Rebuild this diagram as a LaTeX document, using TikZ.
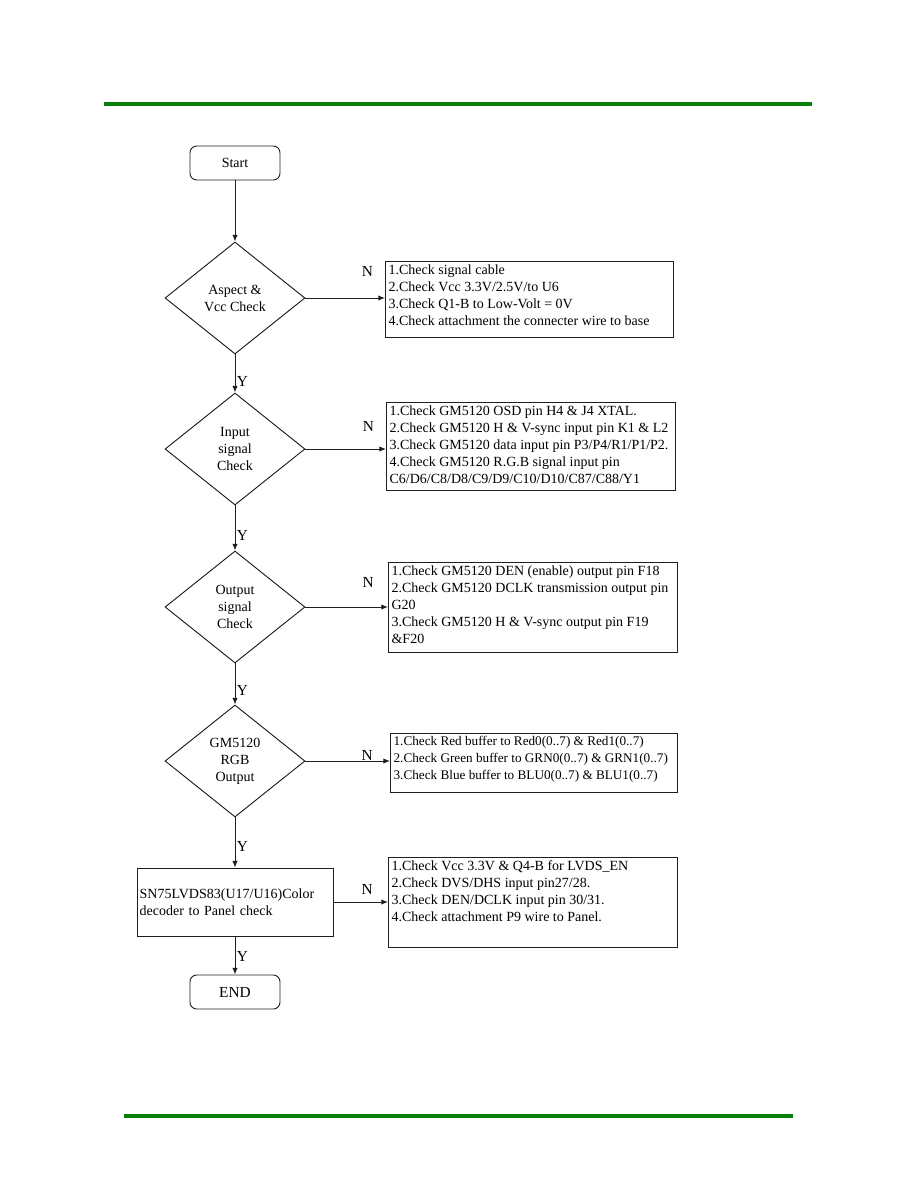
\documentclass[tikz,border=0pt]{standalone}
\usepackage{fontspec}
\setmainfont{Liberation Serif}
\usetikzlibrary{positioning,arrows.meta,shapes.geometric}
\definecolor{uRule}{HTML}{0A800A}
\definecolor{uInk}{HTML}{1E1E1E}
\tikzset{
  base/.style={draw=uInk, line width=0.7pt, inner sep=2pt,
               font=\fontsize{10.5}{12.75}\selectfont},
  term/.style={base, rounded corners=5pt, minimum width=67.5pt,
               minimum height=25.5pt},
  test/.style={base, diamond, aspect=1.25, align=center, inner sep=0pt,
               minimum width=105pt, minimum height=84pt},
  proc/.style={base, minimum width=147pt, minimum height=51pt,
               text width=143pt, align=left},
  chk/.style={base, anchor=north west},
  % the list sits in the top left corner of its frame
  chktext/.style={anchor=north west, align=left, inner sep=2.5pt,
                  font=\fontsize{10.5}{12.75}\selectfont},
  flow/.style={-{Latex[length=5pt, width=4pt]}, draw=uInk, line width=0.7pt},
  lbl/.style={font=\fontsize{11.5}{12}\selectfont, inner sep=1pt},
  greenrule/.style={draw=uRule, line width=3.5pt},
}

\begin{document}
\begin{tikzpicture}[x=0.75pt, y=-0.75pt]
\useasboundingbox (0,0) rectangle (918,1188);

%% ── page rules ───────────────────────────────────────────────────────────
\draw[greenrule] (104,104) -- (812,104);
\draw[greenrule] (124,1116) -- (793,1116);

%% ── main column ──────────────────────────────────────────────────────────
\node[term] (start) at (235,163) {Start};
\node[test] (asp) at (235,298) {Aspect \&\\Vcc Check};
\node[test] (inp) at (235,449) {Input\\signal\\Check};
\node[test] (outp) at (235,607) {Output\\signal\\Check};
\node[test] (rgb) at (235,761) {GM5120\\RGB\\Output};
\node[proc] (lvds) at (235,902)
  {SN75LVDS83(U17/U16)Color\\decoder to Panel check};
\node[term, font=\fontsize{11.5}{13}\selectfont] (fin) at (235,992) {END};

%% ── what to check when the answer is no ──────────────────────────────────
\node[chk, minimum width=216pt, minimum height=57pt,
  label={[chktext]north west:{1.Check signal cable\\
    2.Check Vcc 3.3V/2.5V/to U6\\
    3.Check Q1-B to Low-Volt = 0V\\
    4.Check attachment the connecter wire to base}}] (c1) at (385,261) {};
\node[chk, minimum width=216.75pt, minimum height=66pt,
  label={[chktext]north west:{1.Check GM5120 OSD pin H4 \& J4 XTAL.\\
    2.Check GM5120 H \& V-sync input pin K1 \& L2\\
    3.Check GM5120 data input pin P3/P4/R1/P1/P2.\\
    4.Check GM5120 R.G.B signal input pin\\
    C6/D6/C8/D8/C9/D9/C10/D10/C87/C88/Y1}}] (c2) at (386,402) {};
\node[chk, minimum width=216.75pt, minimum height=67.5pt,
  label={[chktext]north west:{1.Check GM5120 DEN (enable) output pin F18\\
    2.Check GM5120 DCLK transmission output pin\\
    G20\\
    3.Check GM5120 H \& V-sync output pin F19\\
    \&F20}}] (c3) at (388,562) {};
\node[chk, minimum width=215.25pt, minimum height=44.25pt,
  label={[chktext, font=\fontsize{9.9}{12.75}\selectfont]north west:{%
    1.Check Red buffer to Red0(0..7) \& Red1(0..7)\\
    2.Check Green buffer to GRN0(0..7) \& GRN1(0..7)\\
    3.Check Blue buffer to BLU0(0..7) \& BLU1(0..7)}}] (c4) at (390,733) {};
\node[chk, minimum width=216.75pt, minimum height=67.5pt,
  label={[chktext]north west:{1.Check Vcc 3.3V \& Q4-B for LVDS\_EN\\
    2.Check DVS/DHS input pin27/28.\\
    3.Check DEN/DCLK input pin 30/31.\\
    4.Check attachment P9 wire to Panel.}}] (c5) at (388,857) {};

%% ── yes: down the column ─────────────────────────────────────────────────
\draw[flow] (start.south) -- (asp.north);
\draw[flow] (asp.south) -- node[lbl, pos=0.7, right] {Y} (inp.north);
\draw[flow] (inp.south) -- node[lbl, pos=0.66, right] {Y} (outp.north);
\draw[flow] (outp.south) -- node[lbl, pos=0.65, right] {Y} (rgb.north);
\draw[flow] (rgb.south) -- node[lbl, pos=0.57, right] {Y} (lvds.north);
\draw[flow] (lvds.south) -- node[lbl, pos=0.52, right] {Y} (fin.north);

%% ── no: across to the lists ──────────────────────────────────────────────
\draw[flow] (asp.east) -- node[lbl, pos=0.78, above=15pt] {N} (asp.east -| c1.west);
\draw[flow] (inp.east) -- node[lbl, pos=0.78, above=12pt] {N} (inp.east -| c2.west);
\draw[flow] (outp.east) -- node[lbl, pos=0.76, above=13.5pt] {N} (outp.east -| c3.west);
\draw[flow] (rgb.east) -- node[lbl, pos=0.73, above=-1pt] {N} (rgb.east -| c4.west);
\draw[flow] (lvds.east) -- node[lbl, pos=0.62, above=4pt] {N} (lvds.east -| c5.west);

\end{tikzpicture}
\end{document}
